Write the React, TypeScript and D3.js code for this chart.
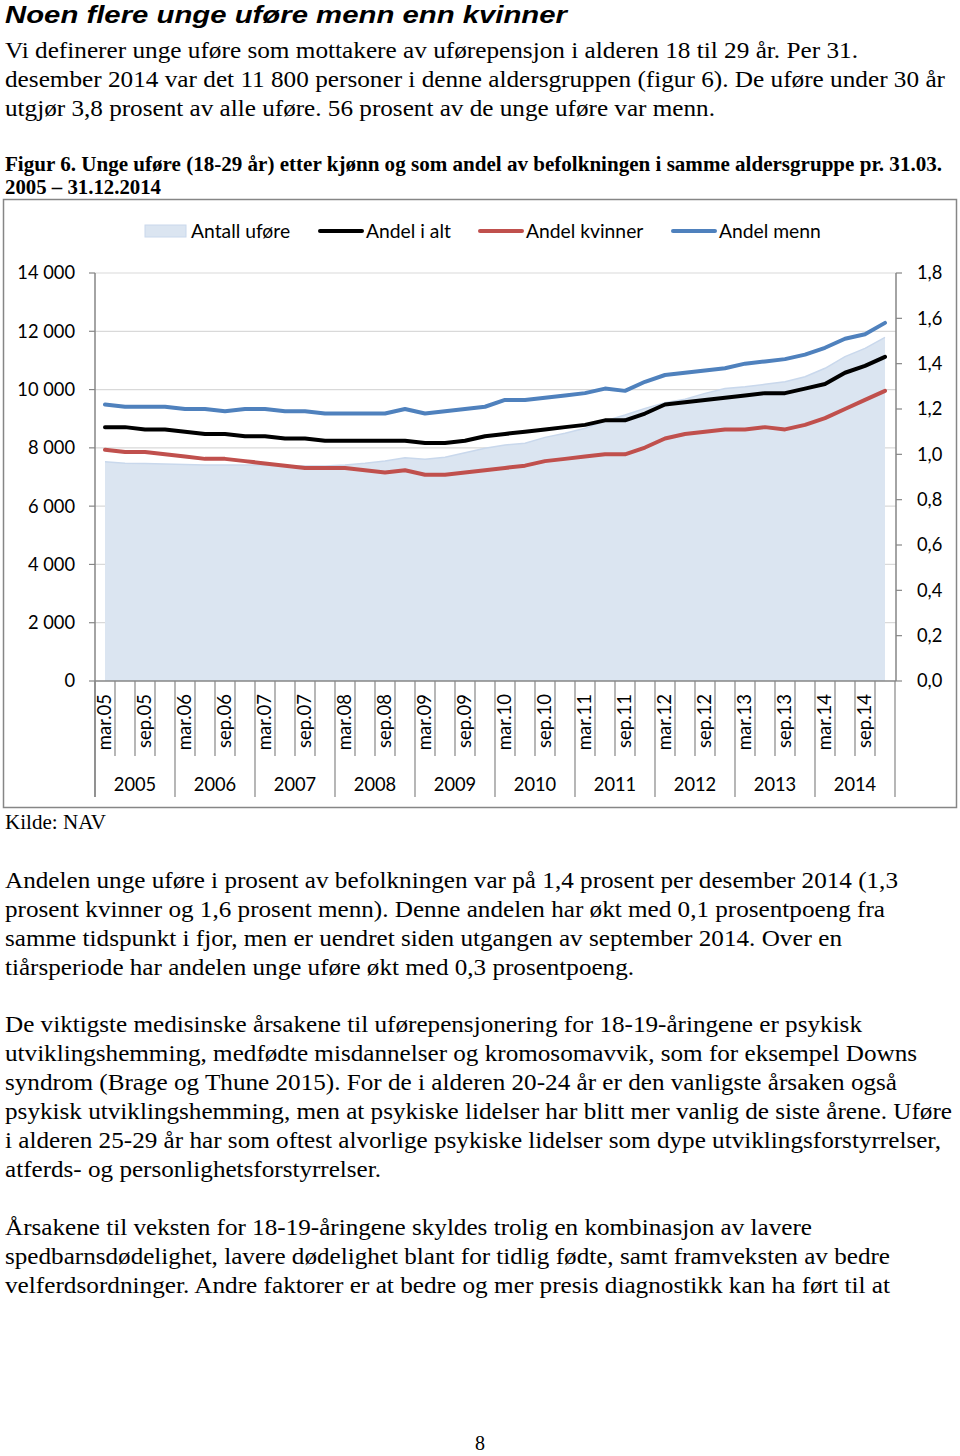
import React from "react";
import * as d3 from "d3";

// ---------- DATA ----------
const quarters = [
  "mar.05","jun.05","sep.05","des.05","mar.06","jun.06","sep.06","des.06",
  "mar.07","jun.07","sep.07","des.07","mar.08","jun.08","sep.08","des.08",
  "mar.09","jun.09","sep.09","des.09","mar.10","jun.10","sep.10","des.10",
  "mar.11","jun.11","sep.11","des.11","mar.12","jun.12","sep.12","des.12",
  "mar.13","jun.13","sep.13","des.13","mar.14","jun.14","sep.14","des.14",
];
const years = ["2005","2006","2007","2008","2009","2010","2011","2012","2013","2014"];

const antallUfore = [
  7520, 7470, 7460, 7445, 7430, 7410, 7410, 7410, 7410, 7395,
  7380, 7380, 7410, 7470, 7550, 7660, 7605, 7675, 7830, 7985,
  8100, 8155, 8360, 8500, 8670, 8920, 9125, 9355, 9550, 9665,
  9870, 10040, 10100, 10180, 10270, 10440, 10730, 11130, 11415, 11790,
];
const andelIAlt = [
  1.12, 1.12, 1.11, 1.11, 1.10, 1.09, 1.09, 1.08, 1.08, 1.07,
  1.07, 1.06, 1.06, 1.06, 1.06, 1.06, 1.05, 1.05, 1.06, 1.08,
  1.09, 1.10, 1.11, 1.12, 1.13, 1.15, 1.15, 1.18, 1.22, 1.23,
  1.24, 1.25, 1.26, 1.27, 1.27, 1.29, 1.31, 1.36, 1.39, 1.43,
];
const andelKvinner = [
  1.02, 1.01, 1.01, 1.00, 0.99, 0.98, 0.98, 0.97, 0.96, 0.95,
  0.94, 0.94, 0.94, 0.93, 0.92, 0.93, 0.91, 0.91, 0.92, 0.93,
  0.94, 0.95, 0.97, 0.98, 0.99, 1.00, 1.00, 1.03, 1.07, 1.09,
  1.10, 1.11, 1.11, 1.12, 1.11, 1.13, 1.16, 1.20, 1.24, 1.28,
];
const andelMenn = [
  1.22, 1.21, 1.21, 1.21, 1.20, 1.20, 1.19, 1.20, 1.20, 1.19,
  1.19, 1.18, 1.18, 1.18, 1.18, 1.20, 1.18, 1.19, 1.20, 1.21,
  1.24, 1.24, 1.25, 1.26, 1.27, 1.29, 1.28, 1.32, 1.35, 1.36,
  1.37, 1.38, 1.40, 1.41, 1.42, 1.44, 1.47, 1.51, 1.53, 1.58,
];

const leftTicks = [0, 2000, 4000, 6000, 8000, 10000, 12000, 14000];
const rightTicks = [0, 0.2, 0.4, 0.6, 0.8, 1.0, 1.2, 1.4, 1.6, 1.8];

const legendItems = [
  { label: "Antall uføre", kind: "area", color: "#dbe5f1" },
  { label: "Andel i alt", kind: "line", color: "#000000" },
  { label: "Andel kvinner", kind: "line", color: "#c0504d" },
  { label: "Andel menn", kind: "line", color: "#4f81bd" },
];

const title = "Noen flere unge uføre menn enn kvinner";
const introLines = [
  "Vi definerer unge uføre som mottakere av uførepensjon i alderen 18 til 29 år. Per 31.",
  "desember 2014 var det 11 800 personer i denne aldersgruppen (figur 6). De uføre under 30 år",
  "utgjør 3,8 prosent av alle uføre. 56 prosent av de unge uføre var menn.",
];
const captionLines = [
  "Figur 6. Unge uføre (18-29 år) etter kjønn og som andel av befolkningen i samme aldersgruppe pr. 31.03.",
  "2005 – 31.12.2014",
];
const sourceText = "Kilde: NAV";
const para1 = [
  "Andelen unge uføre i prosent av befolkningen var på 1,4 prosent per desember 2014 (1,3",
  "prosent kvinner og 1,6 prosent menn). Denne andelen har økt med 0,1 prosentpoeng fra",
  "samme tidspunkt i fjor, men er uendret siden utgangen av september 2014. Over en",
  "tiårsperiode har andelen unge uføre økt med 0,3 prosentpoeng.",
];
const para2 = [
  "De viktigste medisinske årsakene til uførepensjonering for 18-19-åringene er psykisk",
  "utviklingshemming, medfødte misdannelser og kromosomavvik, som for eksempel Downs",
  "syndrom (Brage og Thune 2015). For de i alderen 20-24 år er den vanligste årsaken også",
  "psykisk utviklingshemming, men at psykiske lidelser har blitt mer vanlig de siste årene. Uføre",
  "i alderen 25-29 år har som oftest alvorlige psykiske lidelser som dype utviklingsforstyrrelser,",
  "atferds- og personlighetsforstyrrelser.",
];
const para3 = [
  "Årsakene til veksten for 18-19-åringene skyldes trolig en kombinasjon av lavere",
  "spedbarnsdødelighet, lavere dødelighet blant for tidlig fødte, samt framveksten av bedre",
  "velferdsordninger. Andre faktorer er at bedre og mer presis diagnostikk kan ha ført til at",
];
const pageNumber = "8";

// ---------- LAYOUT ----------
const W = 960, H = 1456;
const plotL = 95, plotR = 895, plotT = 273, plotB = 681;
const axisFont = "Lato, 'Open Sans', sans-serif";
const serif = "'Liberation Serif', 'Times New Roman', serif";

const introEnds = [858, 945, 715];
const captionEnds = [942, 161];
const para1Ends = [898, 885, 842, 634];
const para2Ends = [862, 917, 897, 952, 941, 381];
const para3Ends = [812, 890, 890];

export default function App() {
  const x = d3.scaleBand<string>().domain(quarters).range([plotL, plotR]).padding(0);
  const cx = (i: number) => (x(quarters[i]) as number) + x.bandwidth() / 2;
  const yL = d3.scaleLinear().domain([0, 14000]).range([plotB, plotT]);
  const yR = d3.scaleLinear().domain([0, 1.8]).range([plotB, plotT]);

  const area = d3.area<number>().x((_, i) => cx(i)).y0(yL(0)).y1((d) => yL(d));
  const areaTop = d3.line<number>().x((_, i) => cx(i)).y((d) => yL(d));
  const line = d3.line<number>().x((_, i) => cx(i)).y((d) => yR(d));

  const series = [
    { data: andelIAlt, color: "#000000" },
    { data: andelKvinner, color: "#c0504d" },
    { data: andelMenn, color: "#4f81bd" },
  ];

  const fmtLeft = (v: number) => d3.format(",")(v).replace(/,/g, " ");
  const fmtRight = (v: number) => v.toFixed(1).replace(".", ",");

  const legendX = [145, 320, 480, 673];
  const legendY = 231;

  const textBlock = (lines: string[], ends: number[], baseline0: number, step: number, opts: any = {}) =>
    lines.map((t, i) => (
      <text
        key={t}
        x={5}
        y={baseline0 + i * step}
        textLength={ends[i] - 5}
        lengthAdjust="spacingAndGlyphs"
        fontFamily={serif}
        fontSize={opts.size || 22}
        fontWeight={opts.weight || "normal"}
        fill="#000"
      >
        {t}
      </text>
    ));

  return (
    <svg
      width={W}
      height={H}
      viewBox={`0 0 ${W} ${H}`}
      style={{ position: "absolute", left: 0, top: 0, background: "#fff" }}
    >
      <rect x={0} y={0} width={W} height={H} fill="#fff" />
      {/* Title */}
      <text
        x={5}
        y={23}
        textLength={562}
        lengthAdjust="spacingAndGlyphs"
        fontFamily="'Liberation Sans', Arial, sans-serif"
        fontStyle="italic"
        fontWeight="bold"
        fontSize={24.5}
      >
        {title}
      </text>
      {textBlock(introLines, introEnds, 58, 29, { size: 24 })}
      {textBlock(captionLines, captionEnds, 171, 23, { size: 20.5, weight: "bold" })}

      {/* Chart frame */}
      <rect x={3.5} y={199.5} width={953} height={608} fill="none" stroke="#868686" strokeWidth={1.5} />

      {/* Gridlines */}
      {leftTicks.filter((t) => t > 0).map((t) => (
        <line key={t} x1={plotL} x2={plotR + 1} y1={yL(t)} y2={yL(t)} stroke="#d9d9d9" strokeWidth={1.2} />
      ))}

      {/* Area */}
      <path d={area(antallUfore) || ""} fill="#dbe5f1" />
      <path d={areaTop(antallUfore) || ""} fill="none" stroke="#c9d8ec" strokeWidth={1.5} />

      {/* Lines */}
      {series.map((s) => (
        <path
          key={s.color}
          d={line(s.data) || ""}
          fill="none"
          stroke={s.color}
          strokeWidth={4}
          strokeLinejoin="round"
          strokeLinecap="round"
        />
      ))}

      {/* Left axis */}
      <line x1={plotL} x2={plotL} y1={plotT} y2={797} stroke="#868686" strokeWidth={1.5} />
      {leftTicks.map((t) => (
        <g key={t}>
          <line x1={89} x2={plotL} y1={yL(t)} y2={yL(t)} stroke="#868686" strokeWidth={1.2} />
          <text x={75} y={yL(t)} dy="0.35em" textAnchor="end" fontFamily={axisFont} fontSize={18.3} fill="#000">
            {fmtLeft(t)}
          </text>
        </g>
      ))}

      {/* Right axis */}
      <line x1={plotR + 1} x2={plotR + 1} y1={plotT} y2={plotB} stroke="#868686" strokeWidth={1.5} />
      {rightTicks.map((t) => (
        <g key={t}>
          <line x1={plotR + 1} x2={plotR + 7} y1={yR(t)} y2={yR(t)} stroke="#868686" strokeWidth={1.2} />
          <text x={917} y={yR(t)} dy="0.35em" textAnchor="start" fontFamily={axisFont} fontSize={18.3} fill="#000">
            {fmtRight(t)}
          </text>
        </g>
      ))}

      {/* Bottom axis */}
      <line x1={plotL} x2={plotR + 1} y1={plotB} y2={plotB} stroke="#868686" strokeWidth={1.5} />
      {d3.range(quarters.length + 1).map((k) => {
        const xx = k < quarters.length ? (x(quarters[k]) as number) : plotR;
        const isYear = k % 4 === 0;
        return (
          <line
            key={k}
            x1={xx}
            x2={xx}
            y1={plotB}
            y2={isYear ? 797 : 756}
            stroke="#868686"
            strokeWidth={1.2}
          />
        );
      })}
      {quarters.map((q, i) =>
        q.startsWith("mar") || q.startsWith("sep") ? (
          <text
            key={q}
            transform={`translate(${cx(i)},694) rotate(-90)`}
            textAnchor="end"
            dy="0.35em"
            fontFamily={axisFont}
            fontSize={18.5}
            fill="#000"
          >
            {q}
          </text>
        ) : null
      )}
      {years.map((yv, j) => (
        <text
          key={yv}
          x={plotL + j * 80 + 40}
          y={791}
          textAnchor="middle"
          fontFamily={axisFont}
          fontSize={18.3}
          fill="#000"
        >
          {yv}
        </text>
      ))}

      {/* Legend */}
      {legendItems.map((it, i) => (
        <g key={it.label}>
          {it.kind === "area" ? (
            <rect x={legendX[i]} y={legendY - 6} width={41} height={12} fill={it.color} stroke="#c9d8ec" strokeWidth={1} />
          ) : (
            <line
              x1={legendX[i]}
              x2={legendX[i] + 42}
              y1={legendY}
              y2={legendY}
              stroke={it.color}
              strokeWidth={4}
              strokeLinecap="round"
            />
          )}
          <text x={legendX[i] + 46} y={legendY} dy="0.35em" fontFamily={axisFont} fontSize={19.3} fill="#000">
            {it.label}
          </text>
        </g>
      ))}

      {/* Source */}
      <text x={5} y={829} textLength={101} lengthAdjust="spacingAndGlyphs" fontFamily={serif} fontSize={21}>
        {sourceText}
      </text>

      {textBlock(para1, para1Ends, 888, 29, { size: 24 })}
      {textBlock(para2, para2Ends, 1032, 29, { size: 24 })}
      {textBlock(para3, para3Ends, 1235, 29, { size: 24 })}

      <text x={480} y={1450} textAnchor="middle" fontFamily={serif} fontSize={20}>
        {pageNumber}
      </text>
    </svg>
  );
}
